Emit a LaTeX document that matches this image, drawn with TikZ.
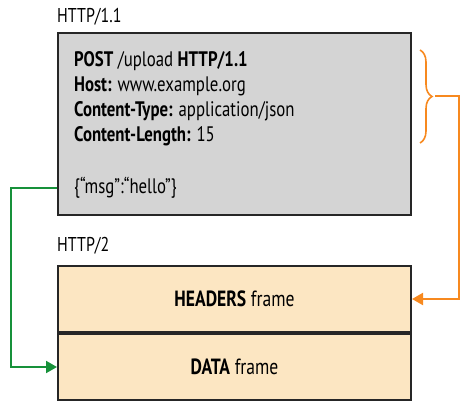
\documentclass[tikz,border=0pt]{standalone}
\usepackage{fontspec}
\setmainfont[FakeStretch=0.8]{PT Sans}
\usetikzlibrary{positioning}
\usetikzlibrary{arrows.meta}
\usetikzlibrary{decorations.pathreplacing}
\definecolor{reqgray}{HTML}{D4D4D4}
\definecolor{framebeige}{HTML}{FCE6C2}
\definecolor{hdrorange}{HTML}{F7891F}
\definecolor{datagreen}{HTML}{17913A}
\tikzset {
  box/.style = {
    draw = black!85,
    line width = 2pt,
    inner sep = 0,
    minimum width = 353pt
  },
  % the HTTP/1.1 message
  request/.style = {
    box,
    fill = reqgray,
    minimum height = 182pt
  },
  % one HTTP/2 frame
  frame/.style = {
    box,
    fill = framebeige,
    minimum height = 66pt,
    font = \fontsize{22}{24}\selectfont
  },
  tag/.style = {
    inner sep = 0,
    font = \fontsize{20}{22}\selectfont
  },
  msgtext/.style = {
    inner sep = 0,
    align = left,
    font = \fontsize{21}{25}\selectfont
  },
  node distance = 0pt
}
\tikzset {
  link/.style = {
    line width = 2pt,
    -{Triangle[length=11pt,width=12pt]}
  },
  hdrlink/.style = {
    link,
    draw = hdrorange
  },
  datalink/.style = {
    link,
    draw = datagreen
  },
  hdrbrace/.style = {
    draw = hdrorange,
    line width = 1.6pt,
    decorate,
    decoration = {brace, amplitude = 12pt}
  }
}

\begin{document}
\begin{tikzpicture}[x=1pt, y=-1pt]
    \useasboundingbox (0,0) rectangle (466,410);

    \node[request, anchor=north west] (req) at (57,32) {};
    \node[tag, anchor=base west] (tag1) at ([yshift=10pt]req.north west) {HTTP/1.1};
    \node[msgtext, anchor=north west] (head) at (74,51) {%
      \textbf{POST} /upload \textbf{HTTP/1.1}\\
      \textbf{Host:} www.example.org\\
      \textbf{Content-Type:} application/json\\
      \textbf{Content-Length:} 15};
    \node[msgtext, anchor=west] (body) at (74,188) {\{“msg”:“hello”\}};

    \node[frame] (headers) [below=49pt of req] {\textbf{HEADERS} frame};
    \node[frame] (data) [below=of headers] {\textbf{DATA} frame};
    \node[tag, anchor=base west] (tag2) at ([yshift=14pt]headers.north west) {HTTP/2};

    \draw[hdrbrace] (420,50) -- (420,143);
    \coordinate (brace tip) at (435,96);

    \draw[hdrlink] (brace tip) -- ++(24,0) |- (headers.east);
    \draw[datalink] (req.west |- body) -- ++(-46,0) |- (data.west);
  \end{tikzpicture}
\end{document}
